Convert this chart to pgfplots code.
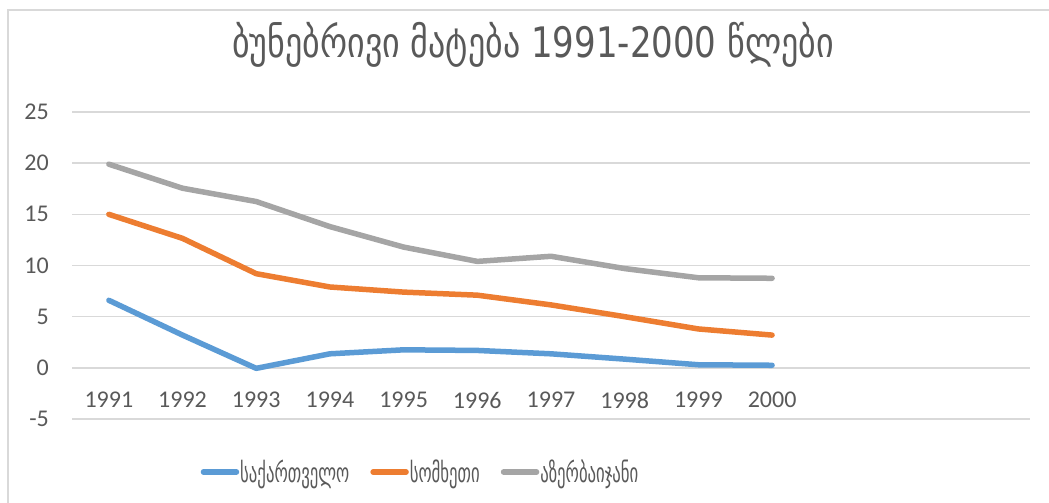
\documentclass[border=0pt]{standalone}
\usepackage{fontspec}
\setmainfont{Carlito}
\newfontfamily\geotitle[FakeStretch=0.81]{DejaVu Sans}
\newfontfamily\geolegend[FakeStretch=0.62]{DejaVu Sans}
\usepackage{pgfplots}
\pgfplotsset{compat=1.18}
\definecolor{txt}{HTML}{595959}
\definecolor{gridc}{HTML}{D9D9D9}
\definecolor{geoblue}{HTML}{5B9BD5}
\definecolor{armorange}{HTML}{ED7D31}
\definecolor{azegray}{HTML}{A5A5A5}

\begin{document}
\begin{tikzpicture}
\useasboundingbox (0pt,0pt) rectangle (1049pt,503pt);
% chart frame (right and bottom edges fall outside the picture)
\draw[gridc, line width=1.5pt] (8pt,-10pt) -- (8pt,493pt) -- (1060pt,493pt);
\node[anchor=base, text=txt, font=\geotitle\fontsize{42}{50}\selectfont]
    at (533pt,445pt) {ბუნებრივი მატება 1991-2000 წლები};

\begin{axis}[
    at={(72pt,84pt)}, anchor=south west,
    scale only axis,
    width=958pt, height=307pt,
    xmin=-0.5, xmax=12.5,
    ymin=-5, ymax=25,
    xtick={0,...,9},
    xticklabels={1991,1992,1993,1994,1995,1996,1997,1998,1999,2000},
    ytick={-5,0,...,25},
    /pgf/number format/assume math mode=true,
    tick style={draw=none},
    axis line style={draw=none},
    ymajorgrids,
    grid style={gridc, line width=1.5pt},
    tick label style={text=txt, font=\fontsize{24}{28}\selectfont},
    xticklabel style={anchor=center, inner sep=0pt, yshift=19pt},
    yticklabel style={anchor=east, inner sep=0pt, xshift=-23pt},
    legend columns=-1,
    legend style={
        at={(0.3633,-0.1726)}, anchor=center,
        draw=none, fill=none,
        font=\geolegend\fontsize{27}{30}\selectfont,
        text=txt,
        nodes={inner sep=1pt},
        /tikz/every even column/.append style={column sep=20pt},
    },
    legend image code/.code={
        \draw[#1, line width=5.5pt, line cap=round] (3pt,0pt) -- (36pt,0pt);
    },
    every axis plot/.append style={line width=5.5pt, line cap=round, line join=round, mark=none},
]
\addplot[geoblue] coordinates {
    (0,6.6) (1,3.2) (2,-0.05) (3,1.37) (4,1.76) (5,1.7) (6,1.37) (7,0.85) (8,0.3) (9,0.25)
};
\addlegendentry{საქართველო}
\addplot[armorange] coordinates {
    (0,15.0) (1,12.65) (2,9.2) (3,7.9) (4,7.4) (5,7.1) (6,6.15) (7,5.0) (8,3.8) (9,3.2)
};
\addlegendentry{სომხეთი}
\addplot[azegray] coordinates {
    (0,19.9) (1,17.55) (2,16.25) (3,13.8) (4,11.8) (5,10.4) (6,10.9) (7,9.7) (8,8.8) (9,8.75)
};
\addlegendentry{აზერბაიჯანი}
\end{axis}
\end{tikzpicture}
\end{document}
